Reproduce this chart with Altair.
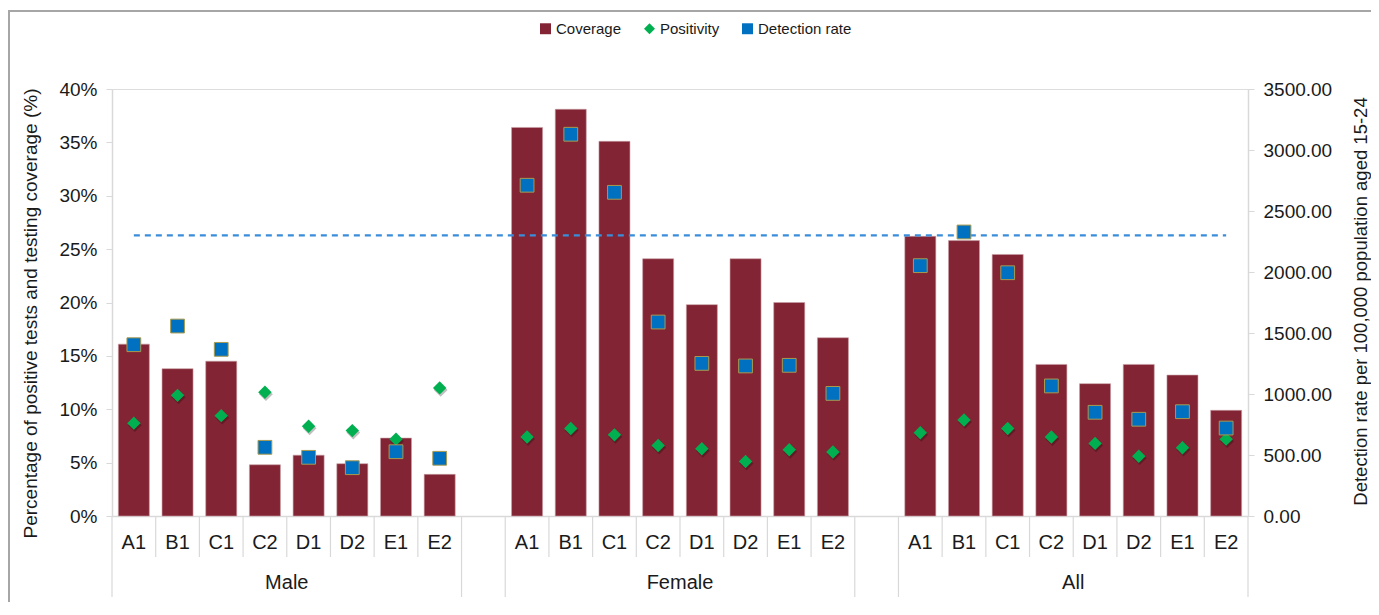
import altair as alt
import pandas as pd

groups = ["Male", "Female", "All"]
categories = ["A1", "B1", "C1", "C2", "D1", "D2", "E1", "E2"]

# Coverage (%), left axis
coverage_male = [16.1, 13.8, 14.5, 4.8, 5.7, 4.9, 7.3, 3.9]
coverage_female = [36.4, 38.1, 35.1, 24.1, 19.8, 24.1, 20.0, 16.7]
coverage_all = [26.2, 25.8, 24.5, 14.2, 12.4, 14.2, 13.2, 9.9]

# Positivity (%), left axis
positivity_male = [8.7, 11.3, 9.4, 11.6, 8.4, 8.0, 7.2, 12.0]
positivity_female = [7.4, 8.2, 7.6, 6.6, 6.3, 5.1, 6.2, 6.0]
positivity_all = [7.8, 9.0, 8.2, 7.4, 6.8, 5.6, 6.4, 7.2]

# Detection rate per 100,000, right axis
detection_male = [1404, 1557, 1366, 563, 481, 396, 527, 473]
detection_female = [2711, 3129, 2653, 1590, 1251, 1230, 1235, 1005]
detection_all = [2052, 2328, 1994, 1066, 850, 793, 855, 721]

target_rate = 2300

series_names = ["Coverage", "Positivity", "Detection rate"]
series_colors = ["#822433", "#00B050", "#0070C0"]
series_shapes = ["square", "diamond", "square"]

cov = [coverage_male, coverage_female, coverage_all]
pos = [positivity_male, positivity_female, positivity_all]
det = [detection_male, detection_female, detection_all]

W, H = 1136, 427
SLOTS_PER_GROUP = 9
N_SLOTS = 26

rows = []
for gi, g in enumerate(groups):
    for ci, c in enumerate(categories):
        slot = gi * SLOTS_PER_GROUP + ci
        rows.append({
            "group": g, "cat": c,
            "center": slot + 0.5, "x0": slot + 0.145, "x1": slot + 0.855,
            "coverage": cov[gi][ci] / 100.0,
            "positivity": pos[gi][ci] / 100.0,
            "detection": det[gi][ci],
        })
df = pd.DataFrame(rows)
df_pos = df.assign(series="Positivity")
df_det = df.assign(series="Detection rate")

long_b, short_b = [], []
for gi in range(3):
    base = gi * SLOTS_PER_GROUP
    for k in range(9):
        (long_b if k in (0, 8) else short_b).append(base + k)
df_long = pd.DataFrame({"b": long_b})
df_short = pd.DataFrame({"b": short_b})
df_groups = pd.DataFrame({"group": groups, "center": [gi * SLOTS_PER_GROUP + 4 for gi in range(3)]})
df_target = pd.DataFrame({"x0": [0.5], "x1": [N_SLOTS - 0.5], "rate": [target_rate]})
df_one = pd.DataFrame({"k": [0]})

FONT = "Liberation Sans"
TXT = "#1a1a1a"
xscale = alt.Scale(domain=[0, N_SLOTS], nice=False, zero=False, padding=0)
xaxis = alt.Axis(labels=False, ticks=False, grid=False, title=None, domainColor="#D9D9D9", domainWidth=1.5)


def X(field):
    return alt.X(field, type="quantitative", scale=xscale, axis=xaxis)


lscale = alt.Scale(domain=[0, 0.4], nice=False, padding=0)
laxis = alt.Axis(
    values=[i * 0.05 for i in range(9)], format=".0%", grid=False,
    title="Percentage of positive tests and testing coverage (%)",
    titleFontSize=19, titleFontWeight="normal", titleColor=TXT, titleFont=FONT,
    titleX=-82, titleY=224, titleAngle=270, titleAlign="center", titleBaseline="middle",
    labelFontSize=19, labelColor=TXT, labelFont=FONT, labelPadding=9,
    tickSize=6, tickColor="#D9D9D9", domainColor="#D9D9D9", domainWidth=1.5,
)
rscale = alt.Scale(domain=[0, 3500], nice=False, padding=0)
raxis = alt.Axis(
    orient="right", values=[i * 500 for i in range(8)], format=".2f", grid=False,
    title="Detection rate per 100,000 population aged 15-24",
    titleFontSize=18.5, titleFontWeight="normal", titleColor=TXT, titleFont=FONT,
    titleX=112, titleY=212, titleAngle=270, titleAlign="center", titleBaseline="middle",
    labelFontSize=19, labelColor=TXT, labelFont=FONT, labelPadding=9,
    tickSize=6, tickColor="#D9D9D9", domainColor="#D9D9D9", domainWidth=1.5,
)

color_enc = alt.Color(
    "series:N",
    scale=alt.Scale(domain=series_names, range=series_colors),
    legend=alt.Legend(
        title=None, orient="none", direction="horizontal", legendX=426, legendY=-68,
        labelFontSize=15, labelFont=FONT, labelColor=TXT, symbolSize=120,
        columnPadding=20, labelOffset=3, symbolStrokeWidth=0,
    ),
)
shape_enc = alt.Shape("series:N", scale=alt.Scale(domain=series_names, range=series_shapes))

frame = alt.Chart(df_one).mark_rect(fill="transparent", stroke="#A6A6A6", strokeWidth=2).encode(
    x=alt.value(-103), x2=alt.value(W + 160), y=alt.value(-78), y2=alt.value(H + 140)
)
sep_long = alt.Chart(df_long).mark_rule(color="#D9D9D9", strokeWidth=1.2).encode(
    x=X("b"), y=alt.value(H), y2=alt.value(H + 81)
)
sep_short = alt.Chart(df_short).mark_rule(color="#D9D9D9", strokeWidth=1.2).encode(
    x=X("b"), y=alt.value(H), y2=alt.value(H + 41)
)
cat_labels = alt.Chart(df).mark_text(fontSize=20, font=FONT, color=TXT, baseline="middle").encode(
    x=X("center"), y=alt.value(H + 27), text="cat:N"
)
grp_labels = alt.Chart(df_groups).mark_text(fontSize=20, font=FONT, color=TXT, baseline="middle").encode(
    x=X("center"), y=alt.value(H + 67), text="group:N"
)
bars = alt.Chart(df).mark_bar(color="#822433", stroke="#C9A0A6", strokeWidth=0.6).encode(
    x=X("x0"), x2="x1",
    y=alt.Y("coverage:Q", scale=lscale, axis=laxis),
    y2=alt.Y2(datum=0),
)
diamond_shadow = alt.Chart(df).mark_point(
    shape="diamond", filled=True, color="#000000", opacity=0.25, size=190, yOffset=2, xOffset=1
).encode(x=X("center"), y=alt.Y("positivity:Q", scale=lscale, axis=laxis))
diamonds = alt.Chart(df_pos).mark_point(filled=True, opacity=1, size=180).encode(
    x=X("center"), y=alt.Y("positivity:Q", scale=lscale, axis=laxis),
    color=color_enc, shape=shape_enc,
)

target = alt.Chart(df_target).mark_rule(color="#3A8DDA", strokeWidth=2.2, strokeDash=[6, 5]).encode(
    x=X("x0"), x2="x1", y=alt.Y("rate:Q", scale=rscale, axis=raxis)
)
squares = alt.Chart(df_det).mark_point(filled=True, opacity=1, size=190, stroke="#A89A4E", strokeWidth=1).encode(
    x=X("center"), y=alt.Y("detection:Q", scale=rscale, axis=raxis),
    color=color_enc, shape=shape_enc,
)

left = alt.layer(frame, sep_long, sep_short, cat_labels, grp_labels, bars, diamond_shadow, diamonds)
right = alt.layer(target, squares)

chart = alt.layer(left, right).resolve_scale(y="independent").properties(
    width=W, height=H,
    padding={"left": 104, "top": 81, "right": 123, "bottom": 86},
    autosize=alt.AutoSizeParams(type="none"),
).configure_view(stroke=None).configure(font=FONT)

chart.save("out.html", embed_options={"renderer": "svg", "actions": False})
